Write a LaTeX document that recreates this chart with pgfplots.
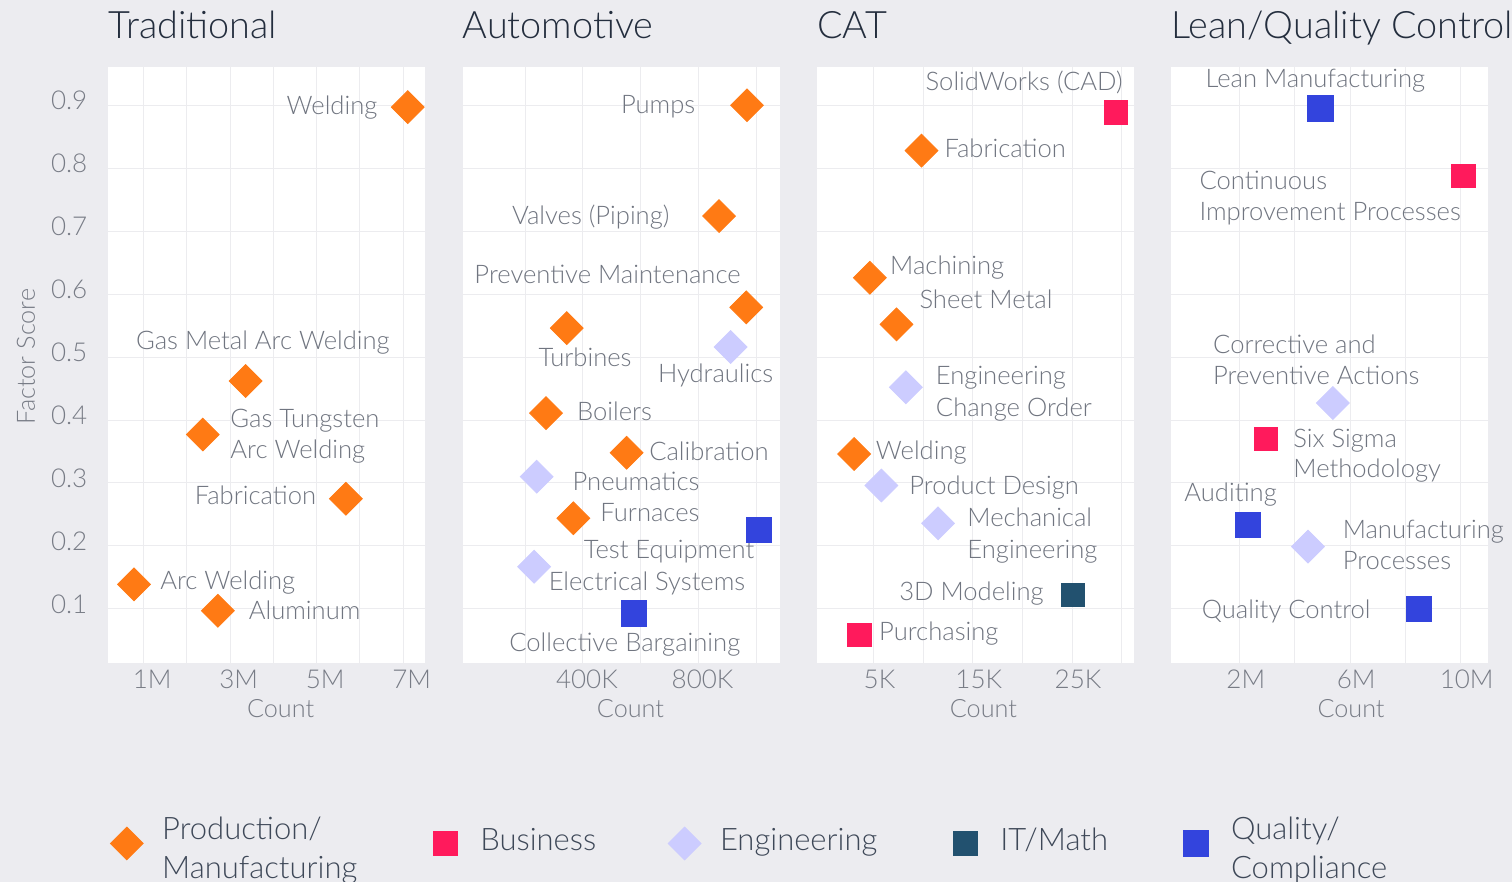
\documentclass[border=0pt]{standalone}
\usepackage{fontspec}
\IfFontExistsTF{Lato Light}{\setmainfont{Lato Light}}{\setmainfont{Lato}}
\usepackage{pgfplots}
\pgfplotsset{compat=1.18}

\definecolor{bg}{RGB}{236,236,240}
\definecolor{gridc}{RGB}{236,236,239}
\definecolor{cProd}{RGB}{255,122,20}
\definecolor{cBus}{RGB}{255,26,92}
\definecolor{cEng}{RGB}{204,204,255}
\definecolor{cIT}{RGB}{34,81,111}
\definecolor{cQual}{RGB}{51,68,221}
\definecolor{cTitle}{RGB}{36,46,62}
\definecolor{cLbl}{RGB}{112,117,128}
\definecolor{cTick}{RGB}{120,124,134}
\definecolor{cLeg}{RGB}{62,72,88}

\pgfplotsset{
  panel/.style={
    scale only axis, width=158.5pt, height=298pt, anchor=north west,
    clip=false, axis background/.style={fill=white},
    axis line style={draw=none}, major tick length=0pt, minor tick length=0pt,
    ymin=0.0133, ymax=0.96,
    ytick={0.1,0.2,0.3,0.4,0.5,0.6,0.7,0.8,0.9},
    grid=both, major grid style={gridc, line width=0.5pt},
    minor grid style={gridc, line width=0.5pt},
    scaled x ticks=false, scaled y ticks=false,
    /pgf/number format/assume math mode=true,
    tick label style={font=\fontsize{13}{15}\selectfont, text=cTick},
    xticklabel style={anchor=base, inner sep=0pt, yshift=-12.4pt},
    yticklabel style={anchor=base east, inner sep=0pt, xshift=-10.4pt, yshift=-2.2pt},
    label style={font=\fontsize{12.6}{15}\selectfont, text=cTick},
    xlabel={Count},
  },
  prod/.style={only marks, color=cProd, mark=square*, mark size=5.8pt, mark options={rotate=45, fill=cProd, draw=none}},
  eng/.style={only marks, color=cEng, mark=square*, mark size=5.8pt, mark options={rotate=45, fill=cEng, draw=none}},
  bus/.style={only marks, color=cBus, mark=square*, mark size=5.9pt, mark options={fill=cBus, draw=none}},
  itm/.style={only marks, color=cIT, mark=square*, mark size=5.9pt, mark options={fill=cIT, draw=none, rounded corners=1pt}},
  qual/.style={only marks, color=cQual, mark=square*, mark size=6.3pt, mark options={fill=cQual, draw=none, rounded corners=2pt}},
}
\tikzset{
  lbl/.style={font=\fontsize{12.8}{15}\selectfont, text=cLbl, inner sep=0pt},
  ttl/.style={font=\fontsize{18.9}{22}\selectfont, text=cTitle, inner sep=0pt, anchor=base west},
}
\newcommand{\lab}[5]{\node[lbl, anchor=#1, xshift=#3pt, yshift=#4pt] at (axis cs:#2) {#5};}

\begin{document}
\begin{tikzpicture}
\fill[bg] (0,0) rectangle (756pt,441pt);
\useasboundingbox (0,0) rectangle (756pt,441pt);

% ---------------- Traditional (Count in millions)
\begin{axis}[panel, at={(54.25pt,407.25pt)},
  xmin=0.19, xmax=7.52,
  xtick={1,3,5,7}, xticklabels={1M,3M,5M,7M}, minor xtick={2,4,6},
  xticklabel style={xshift=4.3pt},
  yticklabels={0.1,0.2,0.3,0.4,0.5,0.6,0.7,0.8,0.9},
  xlabel style={at={(axis description cs:0.543,0)}, anchor=base, inner sep=0pt, yshift=-27.15pt},
  ylabel={Factor Score},
  ylabel style={at={(axis description cs:-0.232,0.515)}, anchor=base, inner sep=0pt},
  legend columns=5,
  legend image code/.code={\path[draw=none,fill=none] (-8pt,-8pt) rectangle (8pt,8pt); \draw[#1] plot coordinates {(0pt,0pt)};},
  legend style={at={(axis description cs:0.0047,-0.302)}, anchor=west, draw=none, fill=none,
    font=\fontsize{15.5}{18.5}\selectfont, text=cLeg, inner sep=0pt,
    nodes={inner sep=0pt}, cells={anchor=west},
    /tikz/every odd column/.append style={column sep=9.5pt},
    /tikz/every even column/.append style={column sep=36pt}},
]
\addlegendimage{prod}
\addlegendentry{{\raisebox{5.75pt}{\begin{tabular}{@{}l@{}}Production/\\[1pt]Manufacturing\end{tabular}}}}
\addlegendimage{bus}
\addlegendentry{\raisebox{2.75pt}{Business}}
\addlegendimage{eng}
\addlegendentry{\raisebox{2.75pt}{Engineering}}
\addlegendimage{itm}
\addlegendentry{\raisebox{2.75pt}{IT/Math}}
\addlegendimage{qual}
\addlegendentry{{\raisebox{5.75pt}{\begin{tabular}{@{}l@{}}Quality/\\[1pt]Compliance\end{tabular}}}}

\addplot[prod, forget plot] coordinates {
  (7.11,0.897) (3.36,0.462) (2.37,0.377) (5.68,0.275) (0.78,0.139) (2.72,0.097)
};
\lab{base east}{7.11,0.897}{-15}{-3.45}{Welding}
\lab{base}{3.36,0.462}{8.65}{15.7}{Gas Metal Arc Welding}
\lab{base west}{2.37,0.377}{13.65}{3.5}{Gas Tungsten}
\lab{base west}{2.37,0.377}{13.65}{-12}{Arc Welding}
\lab{base east}{5.68,0.275}{-14.7}{-2.85}{Fabrication}
\lab{base west}{0.78,0.139}{13}{-2.5}{Arc Welding}
\lab{base west}{2.72,0.097}{15.3}{-4.15}{Aluminum}
\node[ttl] at (rel axis cs:0,1) [yshift=14.25pt] {Traditional};
\end{axis}

% ---------------- Automotive (Count in thousands)
\begin{axis}[panel, at={(231.25pt,407.25pt)},
  xmin=-16.6, xmax=1080,
  xtick={400,800}, xticklabels={400K,800K}, minor xtick={200,600,1000},
  xticklabel style={xshift=2pt},
  yticklabels={},
  xlabel style={at={(axis description cs:0.53,0)}, anchor=base, inner sep=0pt, yshift=-27.15pt},
]
\addplot[prod] coordinates {
  (967.6,0.900) (871,0.724) (965,0.579) (344,0.546) (272.4,0.411)
  (551,0.348) (366.8,0.244)
};
\addplot[eng] coordinates {(911,0.516) (240,0.310) (231,0.167)};
\addplot[qual] coordinates {(1009,0.225) (577,0.093)};
\lab{base east}{967.6,0.900}{-25.65}{-4.3}{Pumps}
\lab{base east}{871,0.724}{-24.65}{-4.25}{Valves (Piping)}
\lab{base}{965,0.579}{-69.35}{12.15}{Preventive Maintenance}
\lab{base}{344,0.546}{9.15}{-19.05}{Turbines}
\lab{base}{911,0.516}{-7.5}{-17.55}{Hydraulics}
\lab{base west}{272.4,0.411}{15.35}{-3.9}{Boilers}
\lab{base west}{551,0.348}{11.15}{-3.65}{Calibration}
\lab{base west}{240,0.310}{17.8}{-6.95}{Pneumatics}
\lab{base west}{366.8,0.244}{13.35}{-1.4}{Furnaces}
\lab{base east}{1009,0.225}{-2.15}{-14.05}{Test Equipment}
\lab{base west}{231,0.167}{7.15}{-11.7}{Electrical Systems}
\lab{base}{577,0.093}{-4.65}{-19.1}{Collective Bargaining}
\node[ttl] at (rel axis cs:0,1) [yshift=14.25pt] {Automotive};
\end{axis}

% ---------------- CAT (Count in thousands)
\begin{axis}[panel, at={(408.5pt,407.25pt)},
  xmin=-0.69, xmax=31.24,
  xtick={5,15,25}, xticklabels={5K,15K,25K}, minor xtick={10,20,30},
  xticklabel style={xshift=3pt},
  yticklabels={},
  xlabel style={at={(axis description cs:0.525,0)}, anchor=base, inner sep=0pt, yshift=-27.15pt},
]
\addplot[prod] coordinates {(9.84,0.828) (4.63,0.626) (7.32,0.552) (3.05,0.346)};
\addplot[eng] coordinates {(8.26,0.452) (5.8,0.296) (11.5,0.236)};
\addplot[bus] coordinates {(29.4,0.889) (3.55,0.059)};
\addplot[itm] coordinates {(25.1,0.122)};
\lab{base east}{29.4,0.889}{3.65}{10.85}{SolidWorks (CAD)}
\lab{base west}{9.84,0.828}{11.3}{-3.25}{Fabrication}
\lab{base west}{4.63,0.626}{10}{1.6}{Machining}
\lab{base west}{7.32,0.552}{11.3}{7.9}{Sheet Metal}
\lab{base west}{8.26,0.452}{14.85}{1.15}{Engineering}
\lab{base west}{8.26,0.452}{14.85}{-14.85}{Change Order}
\lab{base west}{3.05,0.346}{10.7}{-2.8}{Welding}
\lab{base west}{5.8,0.296}{13.8}{-4.35}{Product Design}
\lab{base west}{11.5,0.236}{14.5}{-1.8}{Mechanical}
\lab{base west}{11.5,0.236}{14.5}{-17.55}{Engineering}
\lab{base east}{25.1,0.122}{-14.5}{-2.8}{3D Modeling}
\lab{base west}{3.55,0.059}{9.85}{-2.85}{Purchasing}
\node[ttl] at (rel axis cs:0,1) [yshift=14.25pt] {CAT};
\end{axis}

% ---------------- Lean/Quality Control (Count in millions)
\begin{axis}[panel, at={(585.5pt,407.25pt)},
  xmin=-0.49, xmax=10.99,
  xtick={2,6,10}, xticklabels={2M,6M,10M}, minor xtick={4,8},
  xticklabel style={xshift=3pt},
  yticklabels={},
  xlabel style={at={(axis description cs:0.568,0)}, anchor=base, inner sep=0pt, yshift=-27.15pt},
]
\addplot[eng] coordinates {(5.37,0.427) (4.47,0.199)};
\addplot[bus] coordinates {(10.09,0.788) (2.94,0.370)};
\addplot[qual] coordinates {(4.92,0.895) (2.30,0.234) (8.50,0.100)};
\lab{base}{4.92,0.895}{-2.5}{10.45}{Lean Manufacturing}
\lab{base west}{10.09,0.788}{-132}{-6.85}{Continuous}
\lab{base west}{10.09,0.788}{-132}{-22.2}{Improvement Processes}
\lab{base west}{5.37,0.427}{-60}{24.7}{Corrective and}
\lab{base west}{5.37,0.427}{-60}{9.35}{Preventive Actions}
\lab{base west}{2.94,0.370}{13.65}{-4.3}{Six Sigma}
\lab{base west}{2.94,0.370}{13.65}{-19.4}{Methodology}
\lab{base west}{2.30,0.234}{-32}{11.5}{Auditing}
\lab{base west}{4.47,0.199}{17.2}{4.2}{Manufacturing}
\lab{base west}{4.47,0.199}{17.2}{-11.65}{Processes}
\lab{base east}{8.50,0.100}{-24.15}{-4.7}{Quality Control}
\node[ttl] at (rel axis cs:0,1) [yshift=14.25pt] {Lean/Quality Control};
\end{axis}
\end{tikzpicture}
\end{document}
